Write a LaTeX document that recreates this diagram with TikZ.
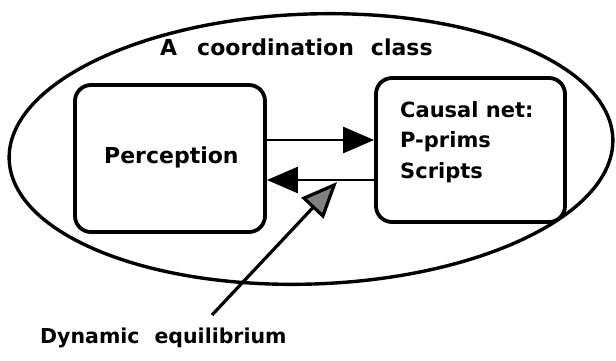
\documentclass[tikz,border=0pt]{standalone}
\usepackage{fontspec}
\setmainfont{DejaVu Sans}[BoldFont={DejaVu Sans Bold}]
\usetikzlibrary{arrows.meta,shapes.geometric}
\begin{document}
\begin{tikzpicture}[x=1pt,y=-1pt,
  lbl/.style={font=\bfseries\fontsize{21}{30.5}\selectfont, inner sep=0pt, anchor=base west},
  boxstyle/.style={draw, line width=3.8pt, rounded corners=16pt, inner sep=0pt},
  arr/.style={line width=2.8pt, -{Triangle[length=31pt,width=26pt]}},
  darr/.style={line width=3.2pt, -{Triangle[length=36pt,width=30pt,fill=black!50]}}]
\useasboundingbox (0,0) rectangle (616,360);
\node[draw, ellipse, line width=3.4pt, minimum width=604pt, minimum height=270pt, inner sep=0pt, rotate=2] (cls) at (311,149) {};
\node[lbl, font=\bfseries\fontsize{22}{26}\selectfont] (title) at (160,55) {A\hspace{20pt}coordination\hspace{17pt}class};
\node[boxstyle, minimum width=190pt, minimum height=147pt] (lbox) at (170,158.5) {};
\node[boxstyle, minimum width=189pt, minimum height=144pt] (rbox) at (470.5,150) {};
\node[lbl, font=\bfseries\fontsize{22}{26}\selectfont] (perc) at (104,163) {Perception};
\node[lbl, align=left] (net) at (400,178) {Causal net:\\P-prims\\Scripts};
\draw[arr] (lbox.east |- 0,140) -- (rbox.west |- 0,140);
\draw[arr] (rbox.west |- 0,180) -- (lbox.east |- 0,180);
\coordinate (tail) at (212,315);
\coordinate (tip) at (337,182);
\draw[darr] (tail) -- (tip);
\node[lbl, font=\bfseries\fontsize{20.5}{26}\selectfont] (dyn) at (40,343) {Dynamic\hspace{15pt}equilibrium};
\end{tikzpicture}
\end{document}
